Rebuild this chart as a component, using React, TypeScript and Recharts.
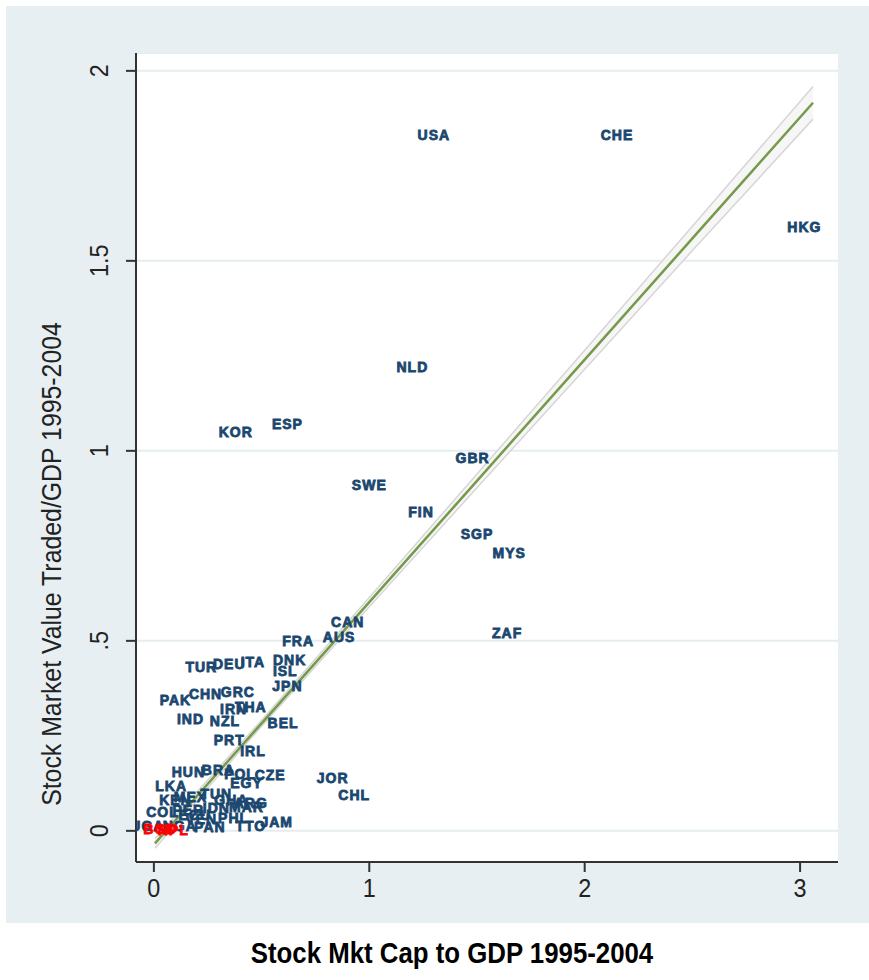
import { ComposedChart, Scatter, Line, Area, XAxis, YAxis, CartesianGrid } from 'recharts';

// country codes, stock market cap / GDP, value traded / GDP (1995-2004 averages)
const codes = [
  'USA', 'CHE', 'HKG', 'NLD', 'KOR', 'ESP', 'GBR', 'SWE', 'FIN', 'SGP', 'MYS', 'ZAF',
  'CAN', 'AUS', 'FRA', 'TUR', 'DEU', 'ITA', 'DNK', 'ISL', 'JPN', 'PAK', 'CHN', 'GRC',
  'THA', 'IRN', 'IND', 'NZL', 'BEL', 'PRT', 'IRL', 'HUN', 'BRA', 'POL', 'CZE', 'JOR',
  'CHL', 'EGY', 'MEX', 'TUN', 'ARG', 'COL', 'PER', 'IDN', 'MAR', 'VEN', 'PHL', 'JAM',
  'UGA', 'NGA', 'PAN', 'TTO', 'LKA', 'KEN', 'GHA', 'ECU',
];
const mktCap = [
  1.3, 2.15, 3.02, 1.2, 0.38, 0.62, 1.48, 1.0, 1.24, 1.5, 1.65, 1.64,
  0.9, 0.86, 0.67, 0.22, 0.35, 0.46, 0.63, 0.61, 0.62, 0.1, 0.24, 0.39,
  0.45, 0.37, 0.17, 0.33, 0.6, 0.35, 0.46, 0.16, 0.3, 0.4, 0.54, 0.83,
  0.93, 0.43, 0.17, 0.29, 0.45, 0.04, 0.16, 0.29, 0.43, 0.22, 0.37, 0.57,
  -0.03, 0.12, 0.26, 0.45, 0.08, 0.1, 0.36, 0.19,
];
const valueTraded = [
  1.83, 1.83, 1.59, 1.22, 1.05, 1.07, 0.98, 0.91, 0.84, 0.78, 0.73, 0.52,
  0.55, 0.51, 0.5, 0.43, 0.44, 0.445, 0.45, 0.42, 0.38, 0.345, 0.36, 0.365,
  0.325, 0.32, 0.295, 0.29, 0.285, 0.24, 0.21, 0.155, 0.16, 0.15, 0.147, 0.14,
  0.095, 0.125, 0.09, 0.097, 0.074, 0.05, 0.055, 0.06, 0.063, 0.03, 0.034, 0.024,
  0.013, 0.013, 0.01, 0.013, 0.118, 0.08, 0.08, 0.042,
];

// highlighted group (red)
const redCodes = ['BGD', 'NPL'];
const redCap = [0.03, 0.09];
const redTraded = [0.005, 0.003];

// linear fit with 95% CI
const fitX = [0.005, 0.5, 1, 1.5, 2, 2.5, 3.06];
const fitY = [-0.033, 0.283, 0.602, 0.921, 1.24, 1.559, 1.916];
const ciLo = [-0.046, 0.275, 0.59, 0.903, 1.215, 1.527, 1.873];
const ciHi = [-0.02, 0.291, 0.614, 0.939, 1.265, 1.591, 1.959];

const xTicks = [0, 1, 2, 3];
const yTicks = [0, 0.5, 1, 1.5, 2];
const yTickLabels = ['0', '.5', '1', '1.5', '2'];

const countries = codes.map((c, i) => ({ x: mktCap[i], y: valueTraded[i], code: c }));
const redGroup = redCodes.map((c, i) => ({ x: redCap[i], y: redTraded[i], code: c }));
const fit = fitX.map((x, i) => ({ x, fit: fitY[i], ci: [ciLo[i], ciHi[i]] }));

const SANS = "'Liberation Sans', Arial, sans-serif";

const codeLabel = (color: string) => (props: any) => (
  <text
    x={props.cx}
    y={props.cy}
    textAnchor="middle"
    dominantBaseline="central"
    fill={color}
    stroke={color}
    strokeWidth={0.8}
    fontFamily={SANS}
    fontWeight="bold"
    fontSize={14}
    letterSpacing={1}
  >
    {props.payload.code}
  </text>
);

const YTick = ({ x, y, payload }: any) => (
  <text
    transform={`translate(${x - 25},${y}) rotate(-90) scale(0.9,1)`}
    textAnchor="middle"
    dominantBaseline="central"
    fontFamily={SANS}
    fontSize={26}
    fill="#222"
  >
    {yTickLabels[yTicks.indexOf(payload.value)] ?? payload.value}
  </text>
);

const XTick = ({ x, y, payload }: any) => (
  <text
    transform={`translate(${x},${y + 14}) scale(0.9,1)`}
    textAnchor="middle"
    dominantBaseline="central"
    fontFamily={SANS}
    fontSize={26}
    fill="#222"
  >
    {payload.value}
  </text>
);

export default function App() {
  return (
    <div style={{ position: 'relative', width: 869, height: 980, background: '#fff', overflow: 'hidden' }}>
      <style>{'body{margin:0}'}</style>
      <div style={{ position: 'absolute', left: 6, top: 6, width: 863, height: 917, background: '#e8eff2' }} />
      <div style={{ position: 'absolute', left: 22, top: 923, width: 847, height: 57, background: '#fff' }} />
      <div
        style={{
          position: 'absolute', left: 452, top: 953, transform: 'translate(-50%, -50%) scale(0.86, 1)',
          whiteSpace: 'nowrap', fontFamily: SANS, fontWeight: 'bold', fontSize: 30, color: '#000',
        }}
      >
        Stock Mkt Cap to GDP 1995-2004
      </div>
      <div
        style={{
          position: 'absolute', left: 52, top: 564, transform: 'translate(-50%, -50%) rotate(-90deg) scale(0.92, 1)',
          whiteSpace: 'nowrap', fontFamily: SANS, fontSize: 27, color: '#222',
        }}
      >
        Stock Market Value Traded/GDP 1995-2004
      </div>
      <div style={{ position: 'absolute', left: 0, top: 0 }}>
        <ComposedChart width={869} height={925} margin={{ top: 53, right: 31, bottom: 23, left: 56 }}>
          <CartesianGrid vertical={false} fill="#ffffff" stroke="#e6edf0" strokeWidth={2} />
          <XAxis
            type="number"
            dataKey="x"
            domain={[-0.083, 3.176]}
            ticks={xTicks}
            allowDataOverflow
            height={40}
            tickSize={10}
            axisLine={{ stroke: '#333', strokeWidth: 2 }}
            tickLine={{ stroke: '#333', strokeWidth: 2 }}
            tick={<XTick />}
          />
          <YAxis
            type="number"
            domain={[-0.082, 2.047]}
            ticks={yTicks}
            allowDataOverflow
            width={80}
            tickSize={10}
            axisLine={{ stroke: '#333', strokeWidth: 2 }}
            tickLine={{ stroke: '#333', strokeWidth: 2 }}
            tick={<YTick />}
          />
          <Area
            data={fit}
            dataKey="ci"
            type="linear"
            fill="#f4f4f4"
            fillOpacity={0.8}
            stroke="#d6d6d6"
            strokeWidth={1.5}
            isAnimationActive={false}
          />
          <Scatter data={countries} dataKey="y" shape={codeLabel('#1a476f')} isAnimationActive={false} />
          <Scatter data={redGroup} dataKey="y" shape={codeLabel('#ff0000')} isAnimationActive={false} />
          <Line
            data={fit}
            dataKey="fit"
            type="linear"
            stroke="#76994a"
            strokeWidth={2.5}
            dot={false}
            isAnimationActive={false}
          />
        </ComposedChart>
      </div>
    </div>
  );
}
